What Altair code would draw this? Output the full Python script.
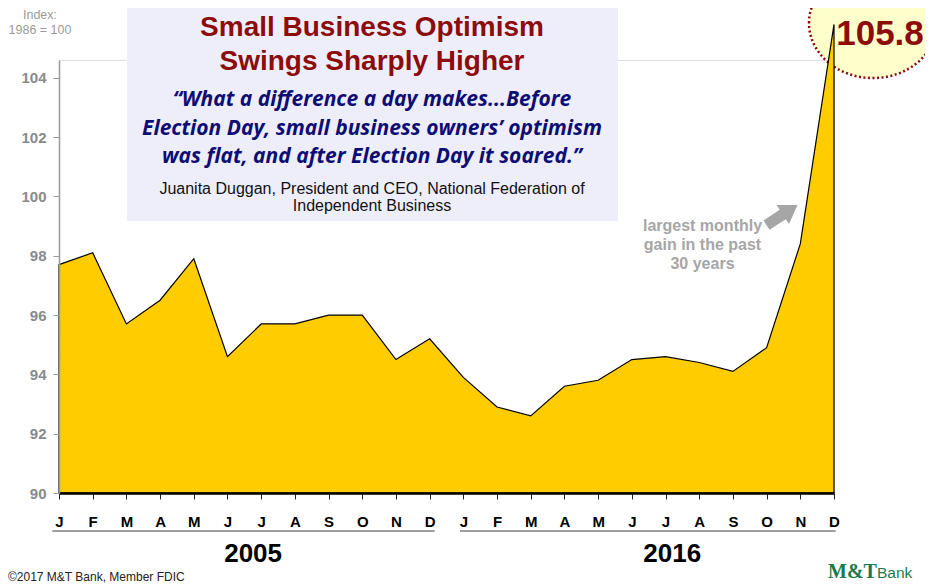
import altair as alt
import pandas as pd

# ---------------- data ----------------
months = ["J", "F", "M", "A", "M", "J", "J", "A", "S", "O", "N", "D"]
years = ["2005", "2016"]
values_2005 = [97.7, 98.1, 95.7, 96.5, 97.9, 94.6, 95.7, 95.7, 96.0, 96.0, 94.5, 95.2]
values_2016 = [93.9, 92.9, 92.6, 93.6, 93.8, 94.5, 94.6, 94.4, 94.1, 94.9, 98.4, 105.8]
y_ticks = [90, 92, 94, 96, 98, 100, 102, 104]
y_domain = [90, 104.6]
peak_label = "105.8"

rows = []
for yi, (yr, vals) in enumerate(zip(years, [values_2005, values_2016])):
    for mi, (m, v) in enumerate(zip(months, vals)):
        rows.append({"idx": yi * 12 + mi, "month": m, "year": yr, "value": v})
df = pd.DataFrame(rows)
n = len(df)

one = pd.DataFrame({"k": [0]})

SANS = "Liberation Sans, Arial, sans-serif"
W, H = 775, 433

month_js = "[" + ",".join("'%s'" % m for m in months) + "]"

x_scale = alt.Scale(domain=[0, n - 1], nice=False, zero=False)
x_axis = alt.Axis(
    values=list(range(n)),
    labelExpr=month_js + "[datum.value % 12]",
    title=None, grid=False,
    domainColor="#000000", domainWidth=2.5,
    tickColor="#222222", tickSize=6, tickWidth=1,
    labelFont=SANS, labelFontSize=15, labelFontWeight="bold",
    labelColor="#000000", labelPadding=15,
    labelFlush=False, labelOverlap=False, zindex=1,
)

x_enc = alt.X("idx:Q", scale=x_scale, axis=x_axis)
y_enc = alt.Y(
    "value:Q",
    scale=alt.Scale(domain=y_domain, nice=False, zero=False),
    axis=alt.Axis(
        values=y_ticks, title=None, grid=False,
        domainColor="#9a9a9a", domainWidth=1.5,
        tickColor="#9a9a9a", tickSize=6, tickWidth=1,
        labelFont=SANS, labelFontSize=15, labelFontWeight="bold",
        labelColor="#8a8a8a", labelPadding=7, zindex=1,
    ),
)

area = alt.Chart(df).mark_area(
    color="#FFCC00", stroke="#000000", strokeWidth=1.2, clip=False
).encode(x=x_enc, y=y_enc, y2=alt.datum(y_domain[0]))


def txt(text, x, y, size, color, weight="normal", style="normal",
        font=SANS, align="center"):
    return alt.Chart(one).mark_text(
        text=text, fontSize=size, color=color, fontWeight=weight,
        fontStyle=style, font=font, align=align, baseline="alphabetic",
    ).encode(x=alt.value(x), y=alt.value(y))


# title box
box = alt.Chart(one).mark_rect(color="#EEEEFB").encode(
    x=alt.value(68), x2=alt.value(559), y=alt.value(-55), y2=alt.value(161)
)

# ellipse highlight around the peak value
ellipse = alt.Chart(one).mark_point(
    shape="M -1 0 A 1 0.86 0 1 1 1 0 A 1 0.86 0 1 1 -1 0 Z",
    size=128 * 128, filled=False, fill="#FFFFCC", fillOpacity=1,
    stroke="#8B0A0A", strokeWidth=2.5, strokeDash=[2, 2.5], opacity=1,
).encode(x=alt.value(814), y=alt.value(-37))

arrow = alt.Chart(one).mark_point(
    shape="M -1 -0.3 L 0.05 -0.3 L 0.05 -0.62 L 1 0 L 0.05 0.62 L 0.05 0.3 L -1 0.3 Z",
    size=37 * 37, filled=True, color="#A6A6A6", opacity=1, angle=327,
).encode(x=alt.value(723), y=alt.value(155))

# year underline rules (data x positions)
under_df = pd.DataFrame({"x1": [-0.2, 11.9], "x2": [11.15, 23.05]})
underline = alt.Chart(under_df).mark_rule(color="#7f7f7f", strokeWidth=1.6).encode(
    x=alt.X("x1:Q", scale=x_scale, axis=x_axis),
    x2="x2:Q",
    y=alt.value(471),
)

year_df = pd.DataFrame({"year": years, "pos": [5.76, 18.2]})
year_text = alt.Chart(year_df).mark_text(
    font=SANS, fontSize=26, fontWeight="bold", color="#000000",
    baseline="alphabetic", align="center",
).encode(
    x=alt.X("pos:Q", scale=x_scale, axis=x_axis),
    y=alt.value(502),
    text="year:N",
)

RED = "#8C0C0C"
NAVY = "#0D0D73"
QFONT = "Open Sans"
texts = [
    txt("Small Business Optimism", 313, -24.5, 28, RED, weight="bold"),
    txt("Swings Sharply Higher", 313, 9.5, 28, RED, weight="bold"),
    txt("\u201cWhat a difference a day makes...Before", 313, 46, 21, NAVY,
        weight="bold", style="italic", font=QFONT),
    txt("Election Day, small business owners\u2019 optimism", 313, 75, 21, NAVY,
        weight="bold", style="italic", font=QFONT),
    txt("was flat, and after Election Day it soared.\u201d", 313, 103, 21, NAVY,
        weight="bold", style="italic", font=QFONT),
    txt("Juanita Duggan, President and CEO, National Federation of", 313, 134, 16, "#111111"),
    txt("Independent Business", 313, 151, 16, "#111111"),
    txt("Index:", -19, -41, 12.5, "#9a9a9a"),
    txt("1986 = 100", -19, -26, 12.5, "#9a9a9a"),
    txt("largest monthly", 643.5, 171, 16, "#A6A6A6", weight="bold"),
    txt("gain in the past", 643.5, 190, 16, "#A6A6A6", weight="bold"),
    txt("30 years", 643.5, 209, 16, "#A6A6A6", weight="bold"),
    txt("\u00a92017 M&T Bank, Member FDIC", -51, 521, 12, "#222222", align="left"),
    txt("M&T", 769, 518, 20, "#1A7A4C", weight="bold",
        font="Liberation Serif, Times New Roman, serif", align="left"),
    txt("Bank", 818, 518, 15.5, "#1A7A4C", align="left"),
]

peak_text = txt(peak_label, 821, -15, 35, RED, weight="bold")

chart = alt.layer(
    box, ellipse, area, underline, year_text, arrow, *texts, peak_text
).properties(
    width=W, height=H,
    padding={"left": 51, "top": 52, "right": 91, "bottom": 92},
    autosize=alt.AutoSizeParams(type="none"),
).configure_view(stroke=None).configure(background="white")

chart.save("out.html", embed_options={"renderer": "svg", "actions": False})
